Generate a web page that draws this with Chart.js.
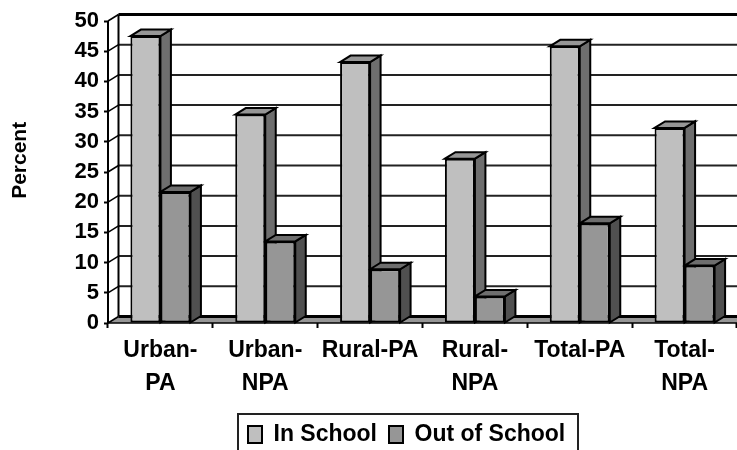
<!DOCTYPE html>
<html><head><meta charset="utf-8">
<style>html,body{margin:0;padding:0;background:#fff;overflow:hidden}#w{width:737px;height:450px;position:relative}</style>
<script src="https://cdn.jsdelivr.net/npm/chart.js@4"></script></head>
<body><div id="w"><canvas id="c" width="737" height="450"></canvas></div>
<script>
const categories = [["Urban-","PA"],["Urban-","NPA"],"Rural-PA",["Rural-","NPA"],"Total-PA",["Total-","NPA"]];
const inSchool = [47.5,34.5,43.2,27.2,45.8,32.3];
const outOfSchool = [21.7,13.5,8.9,4.4,16.5,9.5];
const yMax = 50, yStep = 5;
const FONT = '"Liberation Sans", Arial, sans-serif';
const DX = 10.5, DY = 6.5;
const shades = [{top:'#969696',side:'#6e6e6e'},{top:'#6e6e6e',side:'#505050'}];

function poly(ctx, pts, fill, lw){
  ctx.beginPath();
  pts.forEach((p,i)=> i?ctx.lineTo(p[0],p[1]):ctx.moveTo(p[0],p[1]));
  ctx.closePath();
  if(fill){ctx.fillStyle=fill;ctx.fill();}
  if(lw){ctx.lineWidth=lw;ctx.strokeStyle='#000';ctx.stroke();}
}
const wall = {
  id:'wall',
  afterLayout(chart){
    const l = chart.legend;
    l.left = 236; l.right = 730; l.top = 411;
  },
  beforeDatasetsDraw(chart){
    const {ctx,chartArea:a,scales:{y}} = chart;
    ctx.save();
    poly(ctx,[[a.left,a.bottom],[a.left+DX,a.bottom-DY],[a.right,a.bottom-DY],[a.right,a.bottom]],'#969696');
    for(let v=0;v<=yMax;v+=yStep){
      const p = y.getPixelForValue(v);
      ctx.strokeStyle = v===yMax||v===0 ? '#000' : '#222';
      ctx.lineWidth = v===yMax||v===0 ? 3 : 2;
      ctx.beginPath();ctx.moveTo(a.left+DX,p-DY);ctx.lineTo(a.right,p-DY);ctx.stroke();
      ctx.strokeStyle='#000';ctx.lineWidth=1.5;
      ctx.beginPath();ctx.moveTo(a.left,p);ctx.lineTo(a.left+DX,p-DY);ctx.stroke();
    }
    ctx.lineWidth=2;ctx.strokeStyle='#000';
    ctx.beginPath();ctx.moveTo(a.left+DX,a.top-DY);ctx.lineTo(a.left+DX,a.bottom-DY);ctx.stroke();
    ctx.beginPath();ctx.moveTo(a.left,a.top);ctx.lineTo(a.left,a.bottom);ctx.stroke();
    [0,1].forEach(ds=>{
      chart.getDatasetMeta(ds).data.forEach(b=>{
        const L=b.x-b.width/2,R=b.x+b.width/2,T=b.y,B=b.base;
        poly(ctx,[[R,T],[R+DX,T-DY],[R+DX,B-DY],[R,B]],shades[ds].side,2);
        poly(ctx,[[L,T],[L+DX,T-DY],[R+DX,T-DY],[R,T]],shades[ds].top,2);
      });
    });
    ctx.restore();
  },
  afterDatasetsDraw(chart){
    const {ctx,chartArea:a} = chart;
    ctx.save();ctx.strokeStyle='#000';ctx.lineWidth=1.5;
    ctx.beginPath();ctx.moveTo(a.left,a.bottom);ctx.lineTo(a.right,a.bottom);ctx.stroke();
    ctx.restore();
  },
  afterDraw(chart){
    const {ctx}=chart;
    ctx.save();ctx.strokeStyle='#222';ctx.lineWidth=2;
    ctx.strokeRect(238,414,340,60);
    ctx.restore();
  }
};
new Chart(document.getElementById('c'),{
  type:'bar',
  data:{labels:categories,datasets:[
    {label:'In School',data:inSchool,backgroundColor:'#bfbfbf',borderColor:'#000',borderWidth:2,borderSkipped:false},
    {label:'Out of School',data:outOfSchool,backgroundColor:'#969696',borderColor:'#000',borderWidth:2,borderSkipped:false}
  ]},
  options:{
    responsive:false,animation:false,
    layout:{padding:{top:21,right:0,left:0,bottom:0}},
    datasets:{bar:{barPercentage:1,categoryPercentage:0.5725}},
    plugins:{
      tooltip:{enabled:false},
      legend:{position:'bottom',align:'start',labels:{color:'#000',font:{family:FONT,size:23,weight:'bold'},boxWidth:14,boxHeight:17,padding:12}}
    },
    scales:{
      x:{
        afterFit(s){s.height=82;},
        grid:{drawOnChartArea:false,drawTicks:true,tickLength:5,tickColor:'#000',tickWidth:2,offset:true},
        border:{display:false},
        ticks:{color:'#000',font:{family:FONT,size:23,weight:'bold',lineHeight:1.4},maxRotation:0,padding:7}
      },
      y:{
        min:0,max:yMax,
        afterFit(s){s.width=108;},
        grid:{drawOnChartArea:false,tickLength:4,tickColor:'#000',tickWidth:2},
        border:{display:false},
        ticks:{stepSize:yStep,autoSkip:false,color:'#000',font:{family:FONT,size:22,weight:'bold'},padding:5},
        title:{display:true,text:'    Percent',color:'#000',font:{family:FONT,size:21,weight:'bold'},padding:{top:8,bottom:0}}
      }
    }
  },
  plugins:[wall]
});
</script></body></html>
